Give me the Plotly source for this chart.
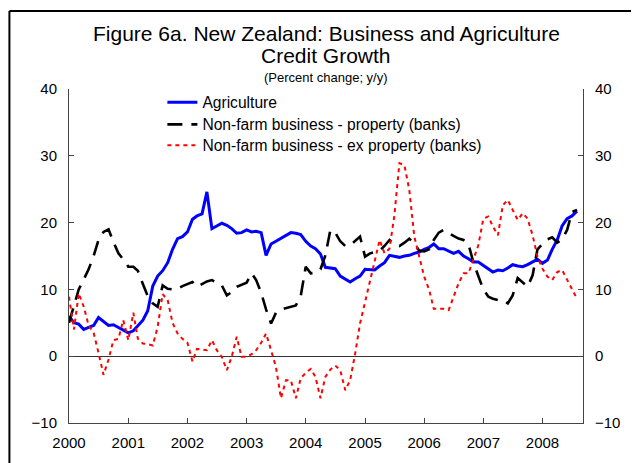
import plotly.graph_objects as go
import pandas as pd

# ---- data (monthly, % change y/y) ----
start_month = "2000-01-01"

agriculture = [
    6.0, 5.0, 4.8, 4.0, 4.3, 4.6, 5.8, 5.2, 4.6, 4.7, 4.3, 3.8,
    3.5, 3.8, 4.6, 5.4, 6.8, 10.5, 12.0, 12.8, 14.0, 16.0, 17.6, 17.9,
    18.6, 20.5, 21.0, 21.3, 24.6, 19.1, 19.5, 19.9, 19.6, 19.1, 18.4, 18.5,
    18.9, 18.6, 18.7, 18.5, 15.1, 16.8, 17.2, 17.6, 18.0, 18.5, 18.4, 18.2,
    17.2, 16.5, 16.1, 15.3, 13.3, 13.2, 13.1, 12.0, 11.5, 11.1, 11.6, 12.0,
    13.0, 12.9, 12.9, 13.5, 14.0, 15.1, 15.0, 14.8, 15.0, 15.1, 15.4, 15.6,
    16.0, 16.3, 16.8, 16.1, 16.1, 15.8, 15.4, 15.7, 15.0, 14.6, 14.1, 14.1,
    13.6, 13.0, 12.6, 12.9, 12.8, 13.2, 13.7, 13.5, 13.4, 13.7, 14.1, 14.5,
    13.9, 14.4, 16.0, 17.4, 19.5, 20.6, 21.0, 21.7,
]

nonfarm_property = [
    5.0, 7.5, 10.0, 11.5, 13.0, 15.0, 17.4, 18.6, 19.0, 17.1, 15.4, 14.5,
    13.4, 13.4, 12.8, 10.8, 9.0, 7.9, 7.4, 10.6, 10.1, 10.0, 10.1, 10.5,
    10.8, 11.1, 10.4, 10.8, 11.2, 11.4, 11.0, 10.6, 9.1, 9.6, 10.4, 10.7,
    11.0, 12.4, 11.4, 9.5, 7.0, 4.9, 6.5, 7.0, 7.2, 7.4, 7.6, 9.0,
    13.4, 12.4, 12.5, 13.0, 15.1, 18.9, 18.5, 17.2, 16.5, 16.6, 17.2, 17.9,
    14.9, 15.4, 15.6, 15.8, 16.5, 17.4, 16.8, 16.5, 17.0, 17.6, 16.9, 15.8,
    15.7, 16.0, 17.4, 18.5, 18.9, 18.4, 18.0, 17.6, 17.4, 16.8, 14.0, 12.0,
    10.0, 8.9, 8.6, 8.4, 8.4, 7.9, 9.1, 11.7, 11.0, 10.4, 12.1, 16.0,
    16.8, 17.5, 17.8, 17.0, 17.5, 18.9, 21.6, 21.9,
]

nonfarm_ex_property = [
    8.9, 4.0, 9.4, 7.4, 4.6, 3.5, 0.5, -2.8, -0.5, 2.4, 2.6, 5.4,
    2.4, 6.5, 2.6, 1.9, 1.8, 1.6, 4.4, 9.3, 8.4, 5.0, 3.4, 2.6,
    2.0, -0.8, 1.1, 1.0, 0.9, 2.4, 0.9, -0.1, -2.1, -0.1, 2.9, -0.1,
    -0.1, 0.3, 0.9, 2.0, 3.4, 0.9, -1.6, -6.3, -3.6, -3.6, -6.3, -3.3,
    -2.5, -1.9, -3.1, -6.3, -3.1, -2.0, -1.4, -2.1, -5.1, -3.6, 0.4, 4.9,
    8.1, 10.9, 13.9, 17.4, 15.4, 16.1, 21.1, 28.9, 28.6, 24.9, 17.9, 14.9,
    11.9, 9.9, 7.1, 7.1, 7.1, 6.9, 8.9, 10.9, 12.4, 12.4, 14.5, 16.6,
    20.6, 20.9, 19.4, 18.1, 22.6, 23.4, 21.9, 20.4, 21.4, 20.6, 18.1, 14.9,
    13.1, 11.9, 11.4, 12.6, 12.9, 11.4, 9.9, 8.6,
]

series_names = [
    "Agriculture",
    "Non-farm business - property (banks)",
    "Non-farm business - ex property (banks)",
]
year_ticks = [str(y) for y in range(2000, 2009)]
y_ticks = [-10, 0, 10, 20, 30, 40]

dates = pd.date_range(start_month, periods=len(agriculture), freq="MS")

# ---- layout constants (page body has an 8px margin) ----
OFF = 8
W, H = 639 - OFF, 463 - OFF
ML, MT = 68.6 - OFF, 89 - OFF
PLOT_R, PLOT_B = 582.7 - OFF, 423 - OFF
MR, MB = W - PLOT_R, H - PLOT_B
PW, PH = W - ML - MR, H - MT - MB
FONT = "Liberation Sans, Arial, sans-serif"
AX = "#444444"


def px_x(p):
    """absolute page x pixel -> paper x"""
    return (p - OFF - ML) / PW


def px_y(p):
    """absolute page y pixel -> paper y"""
    return (H - MB - (p - OFF)) / PH


line_styles = [
    dict(color="#0000FF", width=3),
    dict(color="#000000", width=2.6, dash="15px,9px"),
    dict(color="#FF0000", width=2, dash="4px,4px"),
]
legend_ids = ["legend", "legend2", "legend3"]
series_values = [agriculture, nonfarm_property, nonfarm_ex_property]

fig = go.Figure()
for name, vals, style, lg in zip(series_names, series_values, line_styles, legend_ids):
    fig.add_trace(go.Scatter(x=dates, y=vals, name=name, mode="lines",
                             line=style, legend=lg))
# invisible trace to carry the right-hand axis
fig.add_trace(go.Scatter(x=dates[:1], y=[y_ticks[0]], yaxis="y2",
                         mode="lines", showlegend=False, hoverinfo="skip",
                         line=dict(width=0), opacity=0))

axis_common = dict(
    showgrid=False, ticks="inside", ticklen=5, tickcolor=AX, tickwidth=1,
    showline=True, linecolor=AX, linewidth=1, automargin=False,
    tickfont=dict(family=FONT, size=15, color="#000000"),
)

legend_rows = [102, 124, 145]   # absolute y centre of each legend row
legend_style = dict(
    xanchor="left", yanchor="top", bgcolor="rgba(0,0,0,0)", borderwidth=0,
    font=dict(family=FONT, size=15.6, color="#000000"),
)
legends = {}
for lg, row in zip(legend_ids, legend_rows):
    legends[lg] = dict(x=px_x(162), y=px_y(row - 16.3), **legend_style)

fig.update_layout(
    width=W, height=H,
    margin=dict(l=ML, r=MR, t=MT, b=MB, pad=0, autoexpand=False),
    paper_bgcolor="white", plot_bgcolor="white",
    font=dict(family=FONT, color="#000000"),
    xaxis=dict(
        type="date",
        range=["2000-01-01", "2008-09-07"],
        tickvals=[f"{y}-01-01" for y in year_ticks],
        ticktext=year_ticks,
        zeroline=False, ticklabelstandoff=6,
        **axis_common,
    ),
    yaxis=dict(
        range=[y_ticks[0], y_ticks[-1]], tickvals=y_ticks,
        zeroline=True, zerolinecolor="#333333", zerolinewidth=1,
        ticklabelstandoff=8,
        **axis_common,
    ),
    yaxis2=dict(
        range=[y_ticks[0], y_ticks[-1]], tickvals=y_ticks,
        overlaying="y", side="right", zeroline=False,
        ticklabelstandoff=8,
        **axis_common,
    ),
    showlegend=True,
    **legends,
)

# title & subtitle as text annotations
fig.add_annotation(text="Figure 6a. New Zealand: Business and Agriculture",
                   xref="paper", yref="paper", x=0.5, y=px_y(33),
                   showarrow=False, yanchor="middle",
                   font=dict(family=FONT, size=21, color="#000000"))
fig.add_annotation(text="Credit Growth",
                   xref="paper", yref="paper", x=0.5, y=px_y(56),
                   showarrow=False, yanchor="middle",
                   font=dict(family=FONT, size=21, color="#000000"))
fig.add_annotation(text="(Percent change; y/y)",
                   xref="paper", yref="paper", x=0.5, y=px_y(78),
                   showarrow=False, yanchor="middle",
                   font=dict(family=FONT, size=13, color="#000000"))

# outer frame (top and left edges visible in the reference)
fig.add_shape(type="line", xref="paper", yref="paper",
              x0=px_x(OFF + 1), x1=px_x(650), y0=px_y(11), y1=px_y(11),
              line=dict(color="#000000", width=2))
fig.add_shape(type="line", xref="paper", yref="paper",
              x0=px_x(OFF + 1), x1=px_x(OFF + 1), y0=px_y(11), y1=px_y(470),
              line=dict(color="#000000", width=2))

fig.write_html("out.html")
